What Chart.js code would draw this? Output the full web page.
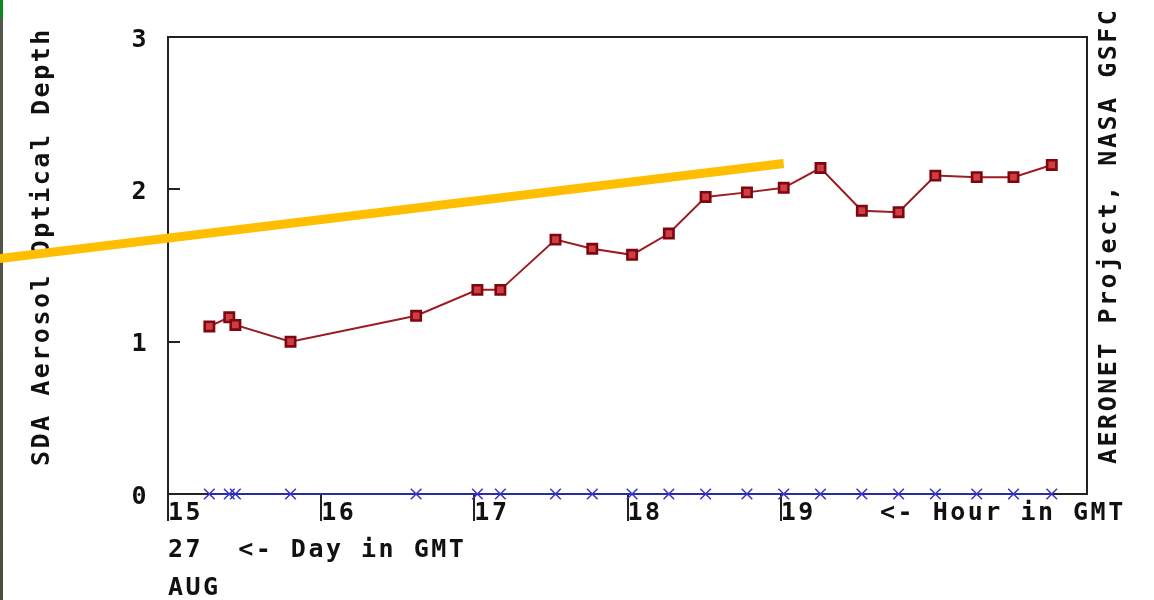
<!DOCTYPE html>
<html><head><meta charset="utf-8">
<script src="https://cdn.jsdelivr.net/npm/chart.js@4.4.1/dist/chart.umd.min.js"></script>
<style>
html,body{margin:0;padding:0;background:#fff;}
#wrap{position:relative;width:1154px;height:600px;overflow:hidden;background:#fff;}
#edge{position:absolute;left:0;top:0;width:3px;height:600px;background:linear-gradient(#0b8a22 0,#0b8a22 14px,#55584a 22px,#4a4d40 100%);}
canvas{position:absolute;left:0;top:0;}
</style></head><body>
<div id="wrap"><div id="edge"></div><canvas id="c" width="1154" height="600"></canvas></div>
<script>
// Hour in GMT of each measurement (27 AUG)
const hours = [15.27, 15.40, 15.44, 15.80, 16.62, 17.02, 17.17, 17.53, 17.77, 18.03, 18.27,
               18.51, 18.78, 19.02, 19.26, 19.53, 19.77, 20.01, 20.28, 20.52, 20.77];
// SDA aerosol optical depth (red squares)
const aod = [1.10, 1.16, 1.11, 1.00, 1.17, 1.34, 1.34, 1.67, 1.61, 1.57, 1.71,
             1.95, 1.98, 2.01, 2.14, 1.86, 1.85, 2.09, 2.08, 2.08, 2.16];
// second series (blue crosses) lying on zero
const aodBase = [0, 0, 0, 0, 0, 0, 0, 0, 0, 0, 0,
                 0, 0, 0, 0, 0, 0, 0, 0, 0, 0];
// labelled hour ticks
const hourTicks = [15, 16, 17, 18, 19];
const yTicks = [0, 1, 2, 3];
// yellow highlight stroke (hour, value)
const overlayX = [13.85, 19.02];
const overlayY = [1.54, 2.17];

const yTitle = 'SDA Aerosol Optical Depth';
const credit = 'AERONET Project, NASA GSFC';
const hourLabel = '<- Hour in GMT';
const dayLabel = '27  <- Day in GMT';
const monthLabel = 'AUG';

const FAMILY = '"DejaVu Sans Mono", "Liberation Mono", monospace';
const FONT = 'bold 25px ' + FAMILY;
const SPACING = '2.5px';
const INK = '#111';
const AXIS = '#222';

const framePlugin = {
  id: 'frameText',
  beforeDraw(chart) { chart.ctx.letterSpacing = SPACING; },
  beforeDatasetsDraw(chart) {
    const {ctx, chartArea: a} = chart;
    ctx.save();
    ctx.strokeStyle = AXIS; ctx.lineWidth = 2;
    ctx.strokeRect(a.left, a.top, a.right - a.left, a.bottom - a.top);
    ctx.fillStyle = INK; ctx.font = FONT; ctx.letterSpacing = SPACING;
    ctx.textBaseline = 'alphabetic'; ctx.textAlign = 'left';
    ctx.save(); ctx.translate(49, 466); ctx.rotate(-Math.PI / 2); ctx.fillText(yTitle, 0, 0); ctx.restore();
    ctx.save(); ctx.translate(1116, 464); ctx.rotate(-Math.PI / 2); ctx.fillText(credit, 0, 0); ctx.restore();
    ctx.fillText(hourLabel, 880, 520);
    ctx.fillText(dayLabel, a.left, 557);
    ctx.fillText(monthLabel, a.left, 595);
    ctx.restore();
  }
};

function noPad(s) { s.paddingTop = 0; s.paddingBottom = 0; s.paddingLeft = 0; s.paddingRight = 0; }

new Chart(document.getElementById('c'), {
  type: 'line',
  data: {
    datasets: [
      {
        label: 'highlight',
        data: overlayX.map((x, i) => ({x: x, y: overlayY[i]})),
        borderColor: '#FFBE00', borderWidth: 9, pointRadius: 0,
        clip: false, tension: 0, borderCapStyle: 'butt'
      },
      {
        label: 'SDA AOD',
        data: hours.map((x, i) => ({x: x, y: aod[i]})),
        borderColor: '#9c1c24', borderWidth: 2, tension: 0, clip: false,
        pointStyle: 'rect', pointRadius: 6.6,
        pointBackgroundColor: '#cf3d45', pointBorderColor: '#7e060e', pointBorderWidth: 2.6
      },
      {
        label: 'base',
        data: hours.map((x, i) => ({x: x, y: aodBase[i]})),
        borderColor: '#2b2ba6', borderWidth: 2, tension: 0, clip: false,
        pointStyle: 'crossRot', pointRadius: 7.5,
        pointBorderColor: '#3434c8', pointBorderWidth: 1.5
      }
    ]
  },
  options: {
    responsive: false, animation: false, devicePixelRatio: 1,
    layout: {padding: {left: 0, top: 37, right: 67, bottom: 0}},
    plugins: {legend: {display: false}, tooltip: {enabled: false}},
    scales: {
      x: {
        type: 'linear', min: 15, max: 21, position: 'bottom',
        afterFit(s) { s.height = 106; noPad(s); },
        border: {display: false},
        grid: {
          drawOnChartArea: false, tickLength: 27, lineWidth: 2,
          tickColor: c => (c.tick && !hourTicks.includes(c.tick.value)) ? 'rgba(0,0,0,0)' : AXIS
        },
        ticks: {
          stepSize: 1, align: 'start', padding: -23, maxRotation: 0, autoSkip: false,
          color: INK, font: {family: FAMILY, weight: 'bold', size: 25},
          callback: v => hourTicks.includes(v) ? String(v) : ''
        }
      },
      y: {
        min: 0, max: 3,
        afterFit(s) { s.width = 168; noPad(s); },
        border: {display: false},
        grid: {drawOnChartArea: false, tickLength: -12, lineWidth: 2, tickColor: AXIS},
        ticks: {
          stepSize: 1, padding: 31, labelOffset: 3, color: INK,
          font: {family: FAMILY, weight: 'bold', size: 25},
          callback: v => yTicks.includes(v) ? String(v) : ''
        }
      }
    }
  },
  plugins: [framePlugin]
});
</script>
</body></html>
